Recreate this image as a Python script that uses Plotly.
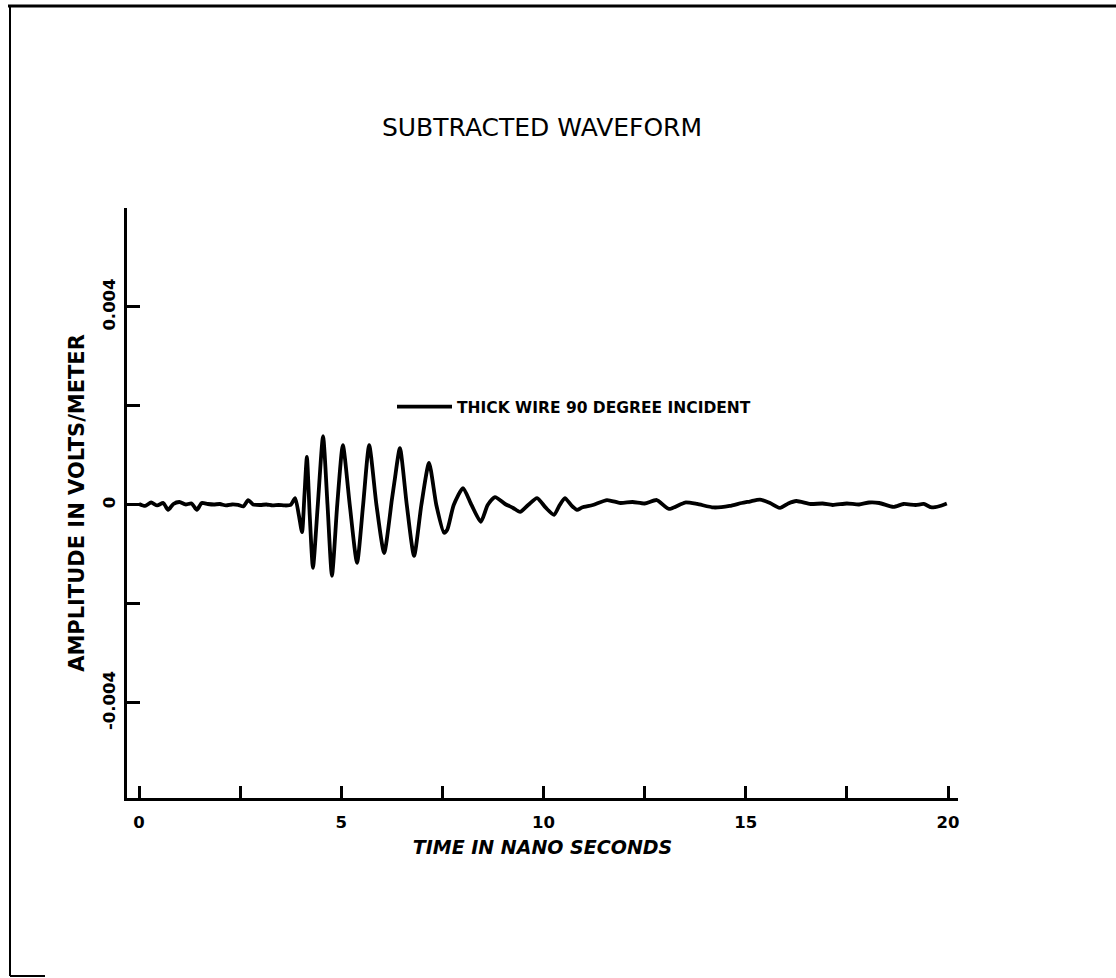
import plotly.graph_objects as go

# ---- data ----
time_ns = [
    0.0, 0.15, 0.3, 0.45, 0.6, 0.72, 0.85, 1.0, 1.15, 1.3, 1.43, 1.55, 1.7, 1.85,
    2.0, 2.15, 2.3, 2.45, 2.58, 2.7, 2.82, 3.0, 3.15, 3.3, 3.45, 3.6, 3.75, 3.86,
    3.95, 4.03, 4.09, 4.15, 4.22, 4.30, 4.42, 4.55, 4.66, 4.77, 4.90, 5.04, 5.21,
    5.39, 5.54, 5.69, 5.87, 6.06, 6.25, 6.32, 6.45, 6.62, 6.80, 6.98, 7.17, 7.35,
    7.54, 7.62, 7.78, 8.01, 8.22, 8.45, 8.62, 8.80, 9.05, 9.25, 9.42, 9.62, 9.84,
    10.05, 10.26, 10.40, 10.53, 10.68, 10.83, 10.95, 11.22, 11.57, 11.9, 12.2,
    12.5, 12.8, 13.1, 13.5, 13.8, 14.2, 14.6, 14.9, 15.1, 15.35, 15.6, 15.85,
    16.05, 16.25, 16.6, 16.9, 17.15, 17.5, 17.8, 18.05, 18.3, 18.65, 18.9, 19.2,
    19.4, 19.6, 19.8, 19.97,
]
amplitude = [
    0.00002, -0.00002, 0.00005, -0.00001, 0.00004, -0.00010, 0.00002, 0.00006,
    0.00001, 0.00003, -0.00010, 0.00004, 0.00002, 0.00001, 0.00002, -0.00001,
    0.00001, 0.00000, -0.00003, 0.00010, 0.00001, 0.00000, 0.00001, -0.00001,
    0.00000, -0.00001, 0.00000, 0.00014,
    -0.00020, -0.00055, 0.00020, 0.00097, -0.00020, -0.00127, 0.00000, 0.00139,
    0.00000, -0.00143, 0.00000, 0.00121, 0.00000, -0.00117, 0.00000, 0.00121,
    0.00000, -0.00097, 0.00010, 0.00050, 0.00115, 0.00000, -0.00103, 0.00000,
    0.00085, 0.00000, -0.00056, -0.00050, 0.00000, 0.00034, 0.00000, -0.00034,
    0.00000, 0.00016, 0.00002, -0.00006, -0.00014, 0.00000, 0.00014, -0.00005,
    -0.00020, 0.00000, 0.00014, 0.00000, -0.00010, -0.00005, 0.00000, 0.00010,
    0.00004, 0.00006, 0.00003, 0.00010, -0.00008, 0.00005, 0.00002, -0.00005,
    -0.00002, 0.00004, 0.00007, 0.00011, 0.00004, -0.00006, 0.00003, 0.00008,
    0.00002, 0.00003, 0.00000, 0.00003, 0.00001, 0.00005, 0.00004, -0.00004,
    0.00002, 0.00000, 0.00002, -0.00005, -0.00002, 0.00003,
]
x_tick_vals = [0, 2.5, 5, 7.5, 10, 12.5, 15, 17.5, 20]
x_tick_text = ["0", "", "5", "", "10", "", "15", "", "20"]
y_tick_vals = [-0.004, -0.002, 0, 0.002, 0.004, 0.006]
y_tick_text = ["-0.004", "", "0", "", "0.004", ""]
series_name = "THICK WIRE 90 DEGREE INCIDENT"

FONT = "DejaVu Sans, Liberation Sans, sans-serif"

fig = go.Figure()
fig.add_trace(go.Scatter(
    x=time_ns, y=amplitude, mode="lines", name="<b>" + series_name + "</b>",
    line=dict(color="black", width=3.8, shape="spline", smoothing=0.6),
    showlegend=True,
))

fig.update_layout(
    width=1116, height=978,
    margin=dict(l=127, r=158, t=208, b=180),
    paper_bgcolor="white", plot_bgcolor="white",
    font=dict(family=FONT, color="black"),
    title=dict(text="SUBTRACTED WAVEFORM", x=542 / 1116, xanchor="center",
               y=1 - 127 / 978, yanchor="middle",
               font=dict(size=25, family=FONT, color="black")),
    showlegend=True,
    legend=dict(x=(392 - 127) / 831, y=(798 - 407) / 590, xanchor="left", yanchor="middle",
                bgcolor="rgba(0,0,0,0)", font=dict(size=15.5, family=FONT, color="black"),
                itemwidth=55),
    xaxis=dict(
        range=[-0.297, 20.247], showgrid=False, zeroline=False,
        showline=True, linecolor="black", linewidth=3,
        ticks="inside", ticklen=12, tickwidth=2.5, tickcolor="black",
        tickvals=x_tick_vals, ticktext=["<b>%s</b>" % t if t else "" for t in x_tick_text],
        tickfont=dict(size=16.5, family=FONT, color="black"), ticklabelstandoff=7,
        title=dict(text="<b><i>TIME IN NANO SECONDS</i></b>",
                   font=dict(size=19, family=FONT, color="black"), standoff=10),
        automargin=False,
    ),
    yaxis=dict(
        range=[-0.00592, 0.006], showgrid=False, zeroline=False,
        showline=True, linecolor="black", linewidth=3,
        ticks="inside", ticklen=13, tickwidth=2.5, tickcolor="black",
        tickvals=y_tick_vals, ticktext=["<b>%s</b>" % t if t else "" for t in y_tick_text],
        tickangle=-90,
        tickfont=dict(size=16.5, family=FONT, color="black"), ticklabelstandoff=2,
        title=dict(text="<b>AMPLITUDE IN VOLTS/METER</b>",
                   font=dict(size=21, family=FONT, color="black"), standoff=11),
        automargin=False,
    ),
    shapes=[
        dict(type="line", xref="paper", yref="paper",
             x0=(8 - 127) / 831, x1=(1116 - 127) / 831,
             y0=(798 - 6) / 590, y1=(798 - 6) / 590,
             line=dict(color="black", width=3)),
        dict(type="line", xref="paper", yref="paper",
             x0=(10 - 127) / 831, x1=(10 - 127) / 831,
             y0=(798 - 6) / 590, y1=(798 - 976) / 590,
             line=dict(color="black", width=2)),
        dict(type="line", xref="paper", yref="paper",
             x0=(10 - 127) / 831, x1=(45 - 127) / 831,
             y0=(798 - 976) / 590, y1=(798 - 976) / 590,
             line=dict(color="black", width=2)),
    ],
)

fig.write_html("out.html")
